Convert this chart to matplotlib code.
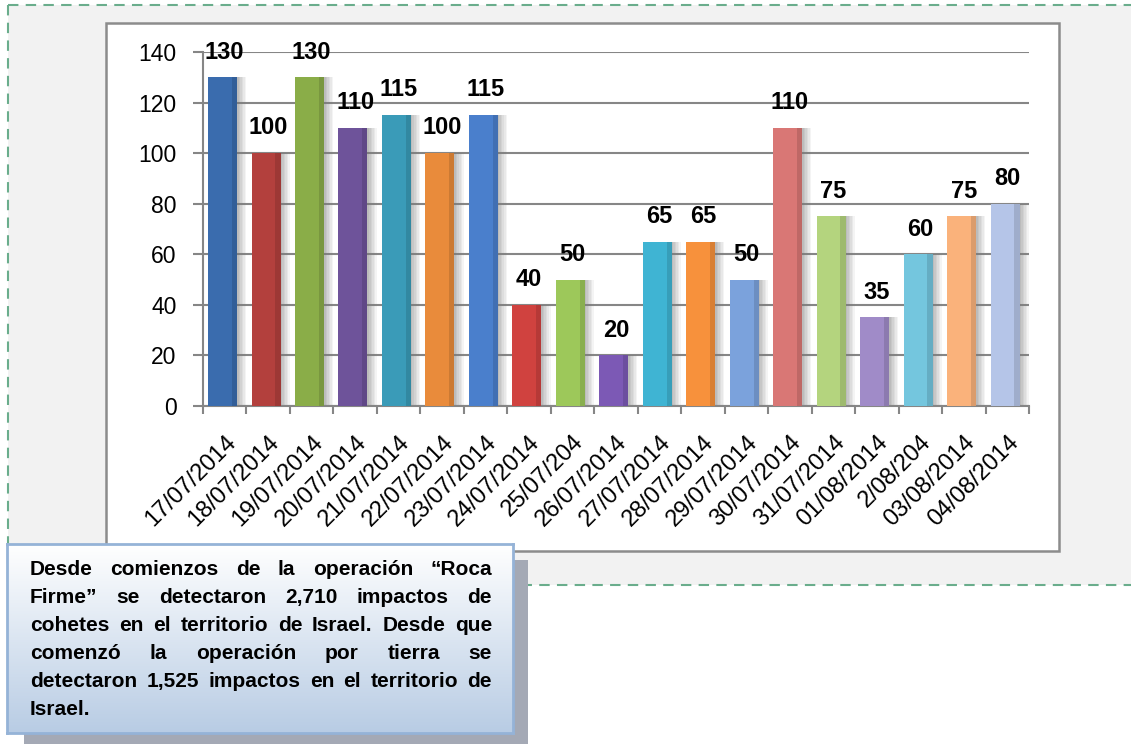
import numpy as np
import matplotlib
matplotlib.use("Agg")
import matplotlib.pyplot as plt
from matplotlib.patches import Rectangle
from matplotlib.lines import Line2D

# -----------------------------
# Data
# -----------------------------
dates = ["17/07/2014", "18/07/2014", "19/07/2014", "20/07/2014", "21/07/2014",
         "22/07/2014", "23/07/2014", "24/07/2014", "25/07/204", "26/07/2014",
         "27/07/2014", "28/07/2014", "29/07/2014", "30/07/2014", "31/07/2014",
         "01/08/2014", "2/08/204", "03/08/2014", "04/08/2014"]
impacts = [130, 100, 130, 110, 115, 100, 115, 40, 50, 20,
           65, 65, 50, 110, 75, 35, 60, 75, 80]
bar_colors = ["#3a6cae", "#b3403d", "#8aad48", "#6e539a", "#3a9bb8",
              "#e98b3b", "#4a7fcc", "#d0423f", "#9dc85a", "#7c59b5",
              "#3fb4d3", "#f7913c", "#7ba2dc", "#d97775", "#b4d47e",
              "#a08bc8", "#74c6de", "#fab27b", "#b5c5e8"]
y_ticks = [0, 20, 40, 60, 80, 100, 120, 140]

note_lines = [
    "Desde comienzos de la operación \u201cRoca",
    "Firme\u201d se detectaron 2,710 impactos de",
    "cohetes en el territorio de Israel. Desde que",
    "comenzó la operación por tierra se",
    "detectaron 1,525 impactos en el territorio de",
    "Israel.",
]

W, H = 1131, 744
GRID = "#868686"
SANS = ["Liberation Sans", "DejaVu Sans"]


def fx(x):
    return x / W


def fy(y):
    return 1 - y / H


fig = plt.figure(figsize=(W / 100, H / 100), dpi=100)
fig.patch.set_facecolor("white")

# -----------------------------
# Background frame
# -----------------------------
fig.patches.append(Rectangle((fx(8), fy(585)), fx(W - 8), fy(5) - fy(585),
                             transform=fig.transFigure, facecolor="#f2f2f2",
                             edgecolor="none", zorder=0.1))
dash = dict(color="#6aad8c", lw=1.5, linestyle=(0, (5, 3.5)),
            transform=fig.transFigure, zorder=0.2)
fig.lines.append(Line2D([fx(8), 1], [fy(5), fy(5)], **dash))
fig.lines.append(Line2D([fx(8), fx(8)], [fy(5), fy(585)], **dash))
fig.lines.append(Line2D([fx(8), 1], [fy(585), fy(585)], **dash))

fig.patches.append(Rectangle((fx(106), fy(551)), fx(1059 - 106), fy(23) - fy(551),
                             transform=fig.transFigure, facecolor="white",
                             edgecolor="#8c8c8c", lw=1.8, zorder=0.3))

# -----------------------------
# Bar chart
# -----------------------------
ax = fig.add_axes([fx(203), fy(406), fx(1029 - 203), fy(52) - fy(406)])
ax.set_zorder(1)
ax.set_facecolor("none")

x = np.arange(len(impacts))
bw = 0.667
xc = x - 0.05

# soft shadow on the right side of each bar
for k in range(6):
    ax.bar(xc + bw / 2 + k * 0.035, impacts, width=0.035, align="edge",
           color="#7a7a7a", alpha=0.5 * (1 - k / 6), lw=0, zorder=2)
ax.bar(xc, impacts, width=bw, color=bar_colors, lw=0, zorder=3)
# darker strip on the right of the bar for a rounded look
ax.bar(xc + bw / 2 - 0.12, impacts, width=0.12, align="edge",
       color="black", alpha=0.12, lw=0, zorder=4)

for i, v in enumerate(impacts):
    ax.annotate(str(v), (i, v), xytext=(0, 13.5), textcoords="offset points",
                ha="center", va="baseline", fontsize=17, fontweight="bold",
                family=SANS, color="black", zorder=5)

ax.set_xlim(-0.5, len(impacts) - 0.5)
ax.set_ylim(0, 140)
ax.set_yticks(y_ticks)
ax.set_yticklabels([str(t) for t in y_ticks], family=SANS, fontsize=16.5)
ax.yaxis.grid(True, color=GRID, lw=1.5)
ax.set_axisbelow(True)

ax.set_xticks(x)
ax.set_xticklabels(dates, rotation=45, ha="right", va="top",
                   rotation_mode="anchor", fontsize=17, family=SANS)
ax.set_xticks(np.arange(-0.5, len(impacts), 1), minor=True)
ax.tick_params(axis="x", which="major", length=0, pad=18)
ax.tick_params(axis="x", which="minor", length=5.5, width=1.5, color=GRID)
ax.tick_params(axis="y", length=7, width=1.5, color=GRID, pad=12)

for s in ["top", "right"]:
    ax.spines[s].set_visible(False)
for s in ["left", "bottom"]:
    ax.spines[s].set_color(GRID)
    ax.spines[s].set_linewidth(1.5)

# -----------------------------
# Note box
# -----------------------------
fig.patches.append(Rectangle((fx(24), fy(744)), fx(528 - 24), fy(560) - fy(744),
                             transform=fig.transFigure, facecolor="#a4a9b5",
                             edgecolor="none", zorder=4))

box = fig.add_axes([fx(7), fy(733), fx(513 - 7), fy(544) - fy(733)])
box.set_zorder(5)
grad = np.linspace(0, 1, 256).reshape(-1, 1)
top_c = np.array([1.0, 1.0, 1.0])
bot_c = np.array([0xb8, 0xcc, 0xe4]) / 255
img = top_c[None, None, :] * (1 - grad[:, :, None]) + bot_c[None, None, :] * grad[:, :, None]
box.imshow(img, aspect="auto", extent=[0, 1, 0, 1], origin="upper")
box.set_xlim(0, 1)
box.set_ylim(0, 1)
box.set_xticks([])
box.set_yticks([])
for s in box.spines.values():
    s.set_color("#95b3d7")
    s.set_linewidth(2)

# justified text, placed word by word
renderer = fig.canvas.get_renderer()
txt_kw = dict(fontsize=15, fontweight="bold", color="black", family=SANS,
              transform=fig.transFigure, va="baseline", ha="left", zorder=6)
left_px, right_px = 30, 492
base0, lead = 575, 28
for li, line in enumerate(note_lines):
    words = line.split(" ")
    arts = [fig.text(0, 0, w, **txt_kw) for w in words]
    widths = [a.get_window_extent(renderer).width for a in arts]
    if li < len(note_lines) - 1 and len(words) > 1:
        gap = (right_px - left_px - sum(widths)) / (len(words) - 1)
    else:
        gap = 5
    xpos = left_px
    ypos = base0 + li * lead
    for a, wd in zip(arts, widths):
        a.set_position((fx(xpos), fy(ypos)))
        xpos += wd + gap

fig.savefig("out.png", dpi=100)
